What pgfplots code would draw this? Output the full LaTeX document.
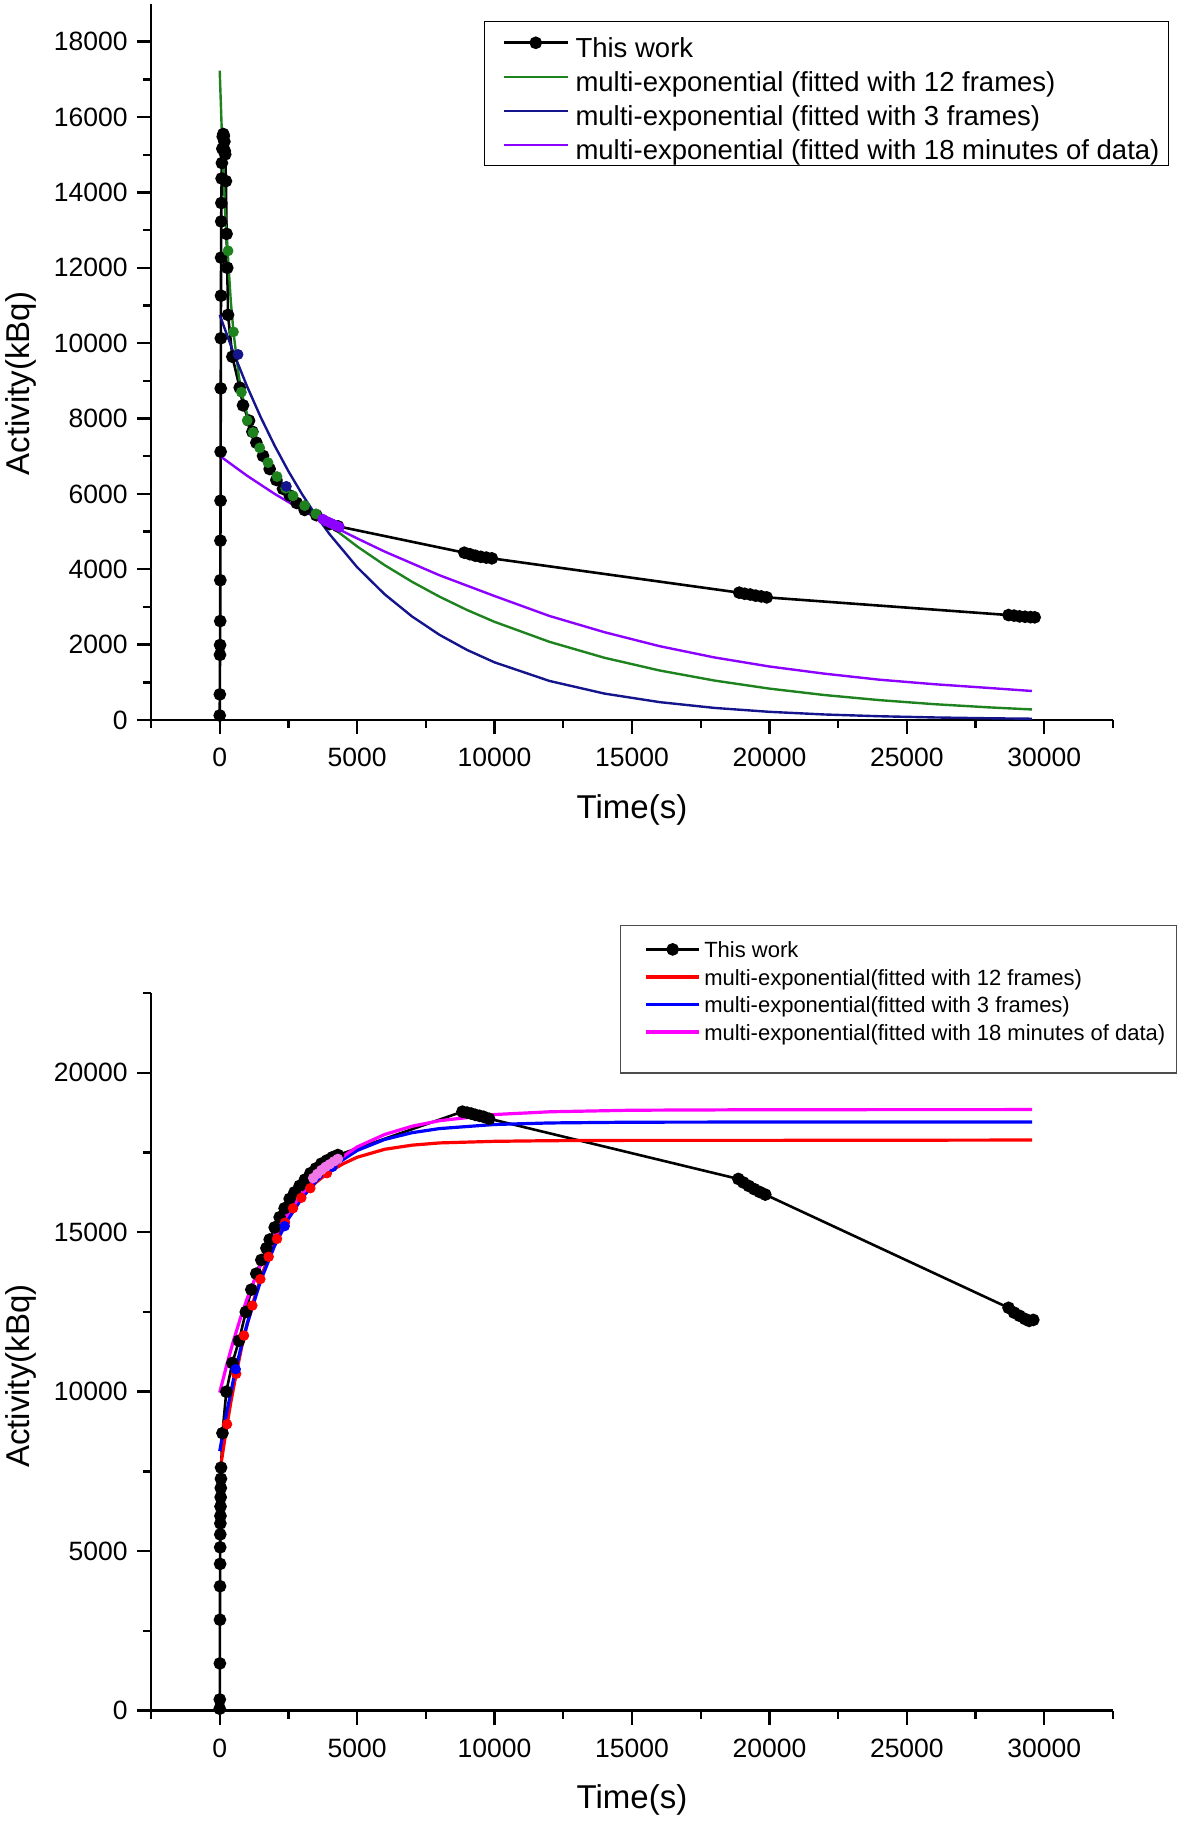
\documentclass[border=0pt]{standalone}
\usepackage{fontspec}
\setmainfont{Liberation Sans}
\usepackage{pgfplots}
\pgfplotsset{compat=1.18}
\definecolor{fgreen}{RGB}{30,130,30}
\definecolor{fnavy}{RGB}{20,20,140}
\definecolor{fviolet}{RGB}{140,0,255}
\definecolor{bred}{RGB}{255,0,0}
\definecolor{bblue}{RGB}{0,0,255}
\definecolor{bmag}{RGB}{255,0,255}
\definecolor{bpink}{RGB}{240,120,230}
\pgfplotsset{
 myaxis/.style={
  scale only axis, width=481pt,
  xmin=-2500, xmax=32500,
  axis lines*=left, axis line style={line width=1.3pt},
  tick align=outside, major tick length=7pt, minor tick length=4pt,
  every tick/.style={black, line width=1.2pt},
  xtick={0,5000,...,30000}, minor xtick={-2500,2500,...,32500},
  scaled ticks=false,
  /pgf/number format/1000 sep={},
  /pgf/number format/assume math mode=true,
  tick label style={font=\fontsize{13.25}{15}\selectfont},
  xticklabel style={yshift=-3.5pt},
  yticklabel style={xshift=-1.2pt},
  label style={font=\fontsize{16.5}{19}\selectfont},
  xlabel={Time(s)}, ylabel={Activity(kBq)},
  xlabel style={at={(axis description cs:0.5,-0.125)}, anchor=center},
  legend cell align=left,
  black series/.style={black, line width=1.3pt, mark=*, mark size=2.5pt, mark options={solid}},
 },
}
\begin{document}
\begin{tikzpicture}
\useasboundingbox (0pt,0pt) rectangle (590.5pt,-910.5pt);
% ---------------- top ----------------
\begin{axis}[myaxis, at={(75.5pt,-360pt)}, anchor=south west, height=358pt,
  ymin=0, ymax=19000, ytick={0,2000,...,18000}, minor ytick={1000,3000,...,17000},
  ylabel style={at={(axis description cs:-0.1354,0.47)}, anchor=center},
  legend style={at={(axis description cs:0.346,0.976)}, anchor=north west,
    draw=black, line width=0.6pt, inner xsep=2pt, inner ysep=2pt,
    font=\fontsize{13.75}{16}\selectfont,
    nodes={inner xsep=1.5pt, inner ysep=0pt, text height=15.8pt, text depth=1.2pt}},
  legend image code/.code={\path (0pt,0pt) (40.75pt,0pt); \draw[mark repeat=2,mark phase=2,#1] plot coordinates {(7pt,0pt) (23pt,0pt) (39pt,0pt)};},
]
\addplot[black series] coordinates {(0,120) (5,680) (10,1730) (14,1990) (18,2625) (22,3710) (26,4760) (30,5820) (34,7120) (38,8800) (42,10130) (46,11260) (50,12270) (55,13230) (60,13720) (70,14370) (80,14780) (95,15160) (110,15480) (130,15550) (150,15500) (170,15350) (185,15100) (200,15010) (225,14300) (250,12900) (275,12000) (303,10750) (460,9640) (727,8820) (848,8350) (1067,7945) (1188,7650) (1333,7360) (1576,7010) (1818,6660) (2061,6370) (2303,6135) (2545,5960) (2800,5760) (3090,5575) (3515,5435) (4000,5200) (4303,5140) (8900,4440) (9100,4400) (9300,4360) (9500,4330) (9700,4310) (9900,4290) (18900,3380) (19100,3350) (19300,3330) (19500,3300) (19700,3280) (19900,3255) (28700,2785) (28900,2770) (29100,2750) (29300,2740) (29500,2730) (29650,2725)};
\addlegendentry{This work}
\addplot[fgreen, line width=1.2pt] coordinates {(0,17230) (100,15115) (200,13450) (300,12300) (400,11150) (500,10300) (700,9100) (900,8350) (1200,7650) (1450,7220) (1750,6830) (2100,6450) (2650,5960) (3100,5680) (3500,5465) (4000,5163) (5000,4606) (6000,4110) (7000,3667) (8000,3272) (9000,2919) (10000,2605) (12000,2074) (14000,1651) (16000,1315) (18000,1047) (20000,833) (22000,663) (24000,528) (26000,420) (28000,335) (29550,280)};
\addlegendentry{multi-exponential (fitted with 12 frames)}
\addplot[fnavy, line width=1.2pt] coordinates {(0,10750) (500,9750) (1000,8845) (1500,8023) (2000,7278) (2500,6602) (3000,5988) (3500,5432) (4000,4928) (5000,4055) (6000,3337) (7000,2746) (8000,2259) (9000,1859) (10000,1530) (12000,1036) (14000,701) (16000,475) (18000,321) (20000,217) (22000,147) (24000,100) (26000,68) (28000,46) (29550,34)};
\addlegendentry{multi-exponential (fitted with 3 frames)}
\addplot[fviolet, line width=1.2pt] coordinates {(0,7010) (1000,6480) (2000,6000) (3000,5570) (4000,5180) (5000,4820) (6000,4470) (8000,3840) (10000,3290) (12000,2760) (14000,2330) (16000,1960) (18000,1660) (20000,1420) (22000,1230) (24000,1070) (26000,950) (28000,850) (29550,770)};
\addlegendentry{multi-exponential (fitted with 18 minutes of data)\hspace*{1.2pt}}
\addplot[forget plot, only marks, mark=*, mark size=2.5pt, fgreen] coordinates {(303,12450) (500,10300) (788,8700) (1000,7950) (1212,7630) (1455,7220) (1757,6830) (2085,6460) (2400,6150) (2667,5950) (3090,5690) (3500,5470)};
\addplot[forget plot, only marks, mark=*, mark size=2.5pt, fnavy] coordinates {(667,9700) (2424,6200)};
\addplot[forget plot, only marks, mark=*, mark size=2.5pt, fviolet] coordinates {(3750,5330) (3900,5270) (4050,5220) (4200,5170) (4350,5120)};
\end{axis}
% ---------------- bottom ----------------
\begin{axis}[myaxis, at={(75.5pt,-855.3pt)}, anchor=south west, height=358.8pt,
  ymin=0, ymax=22500, ytick={0,5000,...,20000}, minor ytick={2500,7500,...,22500},
  ylabel style={at={(axis description cs:-0.1354,0.466)}, anchor=center},
  legend style={at={(axis description cs:0.4875,1.0947)}, anchor=north west,
    draw=black!70, line width=0.6pt, inner xsep=1pt, inner ysep=5pt,
    font=\fontsize{11}{13}\selectfont,
    nodes={inner xsep=1.75pt, inner ysep=0pt, text height=11.1pt, text depth=2.65pt}},
  legend image code/.code={\path (0pt,0pt); \draw[mark repeat=2,mark phase=2,#1] plot coordinates {(11pt,0pt) (24.25pt,0pt) (37.5pt,0pt)};},
]
\addplot[black series] coordinates {(0,60) (3,350) (6,1480) (9,2850) (12,3900) (15,4600) (18,5120) (21,5525) (24,5870) (27,6105) (30,6400) (35,6690) (40,6980) (45,7270) (50,7620) (100,8700) (240,10000) (460,10900) (700,11600) (950,12500) (1150,13200) (1330,13700) (1515,14130) (1700,14500) (1818,14770) (2000,15150) (2182,15470) (2360,15750) (2545,16045) (2720,16250) (2909,16455) (3100,16650) (3300,16850) (3500,17000) (3700,17150) (3900,17250) (4100,17350) (4300,17420) (8830,18780) (9000,18750) (9150,18720) (9300,18680) (9450,18650) (9600,18620) (9800,18560) (18870,16670) (19050,16560) (19250,16450) (19450,16350) (19650,16260) (19850,16180) (28700,12630) (28900,12480) (29100,12380) (29300,12280) (29450,12220) (29600,12250)};
\addlegendentry{This work}
\addplot[bred, line width=1.6pt] coordinates {(0,7455) (200,8600) (400,9650) (600,10560) (800,11400) (1000,12110) (1250,12900) (1500,13580) (1750,14160) (2000,14680) (2500,15500) (3000,16100) (3500,16560) (4000,16900) (4500,17150) (5000,17350) (6000,17600) (7000,17730) (8000,17800) (10000,17850) (12000,17870) (15000,17880) (20000,17880) (29560,17890)};
\addlegendentry{multi-exponential(fitted with 12 frames)}
\addplot[bblue, line width=1.6pt] coordinates {(0,8135) (250,9325) (500,10377) (750,11308) (1000,12133) (1500,13506) (2000,14582) (2500,15423) (3000,16082) (3500,16597) (4000,17001) (5000,17564) (6000,17909) (7000,18121) (8000,18250) (10000,18378) (12000,18426) (15000,18450) (20000,18455) (29560,18455)};
\addlegendentry{multi-exponential(fitted with 3 frames)}
\addplot[bmag, line width=1.6pt] coordinates {(0,9970) (250,10823) (500,11597) (750,12295) (1000,12925) (1500,14011) (2000,14897) (2500,15621) (3000,16212) (3500,16695) (4000,17089) (5000,17674) (6000,18064) (7000,18324) (8000,18497) (10000,18690) (12000,18776) (15000,18825) (20000,18842) (29560,18845)};
\addlegendentry{multi-exponential(fitted with 18 minutes of data)\hspace*{2.9pt}}
\addlegendimage{empty legend}
\addlegendentry[text height=0pt, text depth=8.7pt]{}
\addplot[forget plot, only marks, mark=*, mark size=2.4pt, bred] coordinates {(267,8980) (600,10560) (885,11760) (1188,12700) (1479,13530) (1782,14230) (2085,14790) (2376,15300) (2667,15750) (2970,16080) (3297,16380) (3900,16850)};
\addplot[forget plot, only marks, mark=*, mark size=2.4pt, bblue] coordinates {(582,10705) (2364,15190) (4100,17050)};
\addplot[forget plot, only marks, mark=*, mark size=2.4pt, bpink] coordinates {(3400,16700) (3550,16830) (3700,16950) (3850,17050) (4000,17130) (4150,17220) (4300,17300)};
\end{axis}
\end{tikzpicture}
\end{document}
